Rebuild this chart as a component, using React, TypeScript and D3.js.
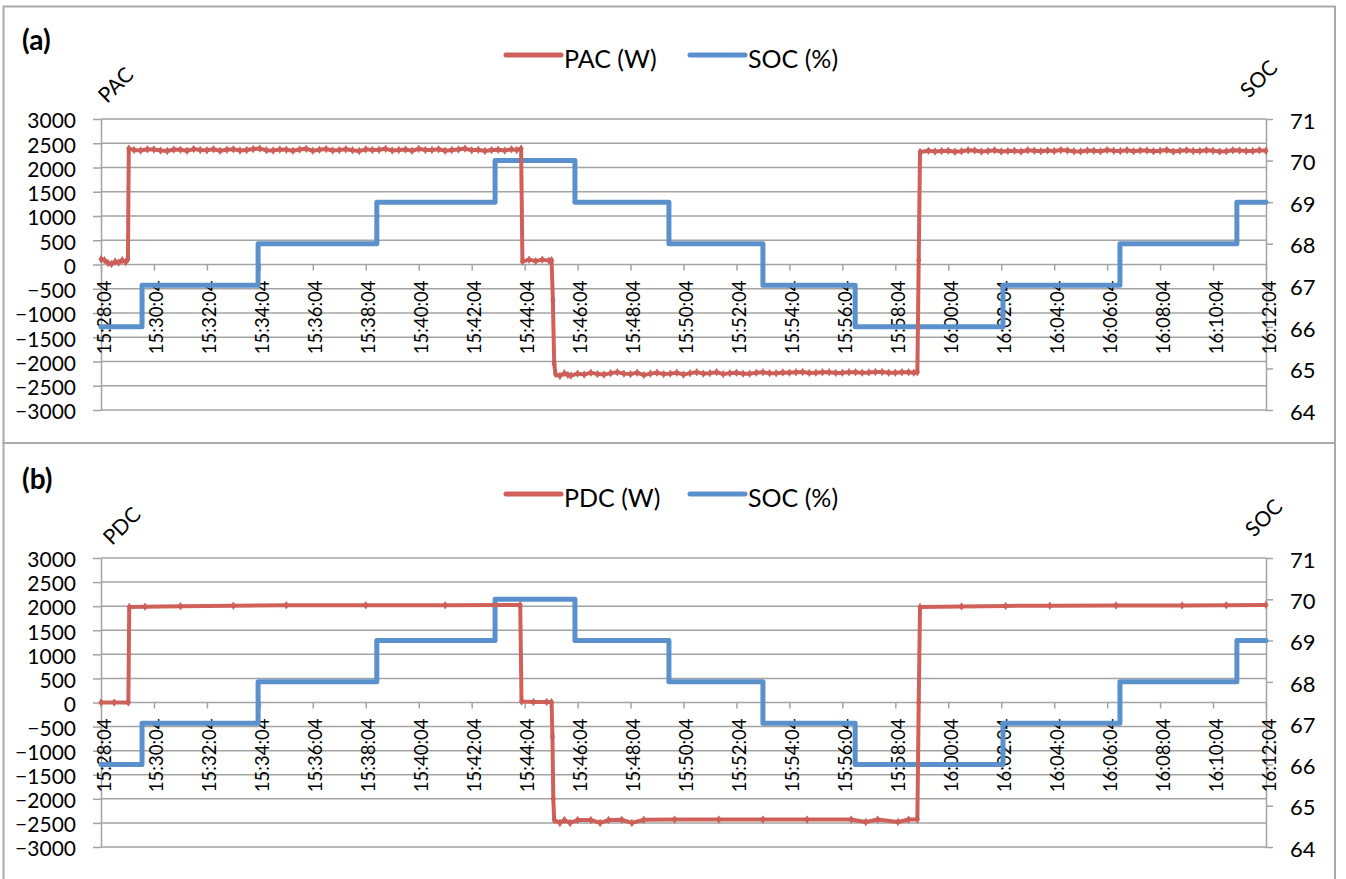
import React, { useEffect, useRef } from 'react'
import * as d3 from 'd3'

// time axis labels (every 2 minutes)
const tickTimes = [
  '15:28:04', '15:30:04', '15:32:04', '15:34:04', '15:36:04', '15:38:04',
  '15:40:04', '15:42:04', '15:44:04', '15:46:04', '15:48:04', '15:50:04',
  '15:52:04', '15:54:04', '15:56:04', '15:58:04', '16:00:04', '16:02:04',
  '16:04:04', '16:06:04', '16:08:04', '16:10:04', '16:12:04',
]
const powerTicks = [-3000, -2500, -2000, -1500, -1000, -500, 0, 500, 1000, 1500, 2000, 2500, 3000]
const socTicks = [64, 65, 66, 67, 68, 69, 70, 71]

// SOC (%) : level changes (same in both panels)
const socChangeTimes = [
  '15:28:04', '15:29:37', '15:34:00', '15:38:29', '15:42:57', '15:45:58',
  '15:49:31', '15:53:04', '15:56:33', '16:02:08', '16:06:33', '16:10:58', '16:12:04',
]
const socLevels = [66, 67, 68, 69, 70, 69, 68, 67, 66, 67, 68, 69, 69]

// PAC (W) : [seconds after 15:28:04, value]
const pacSamples: [number, number][] = [
  [0, 110], [8, 90], [16, 30], [24, 10], [32, 60], [40, 40], [48, 90], [56, 50], [61, 110],
  [63, 2390], [75, 2360], [90, 2350], [105, 2375], [120, 2370], [135, 2350], [150, 2340],
  [165, 2370], [180, 2365], [195, 2345], [210, 2380], [225, 2360], [240, 2355], [255, 2375],
  [270, 2345], [285, 2365], [300, 2375], [315, 2350], [330, 2360], [345, 2380], [360, 2390],
  [375, 2355], [390, 2350], [405, 2370], [420, 2365], [435, 2345], [450, 2370], [465, 2385],
  [480, 2345], [495, 2365], [510, 2380], [525, 2350], [540, 2360], [555, 2375], [570, 2355],
  [585, 2340], [600, 2375], [615, 2360], [630, 2365], [645, 2385], [660, 2350], [675, 2360],
  [690, 2370], [705, 2345], [720, 2385], [735, 2360], [750, 2360], [765, 2375], [780, 2345],
  [795, 2360], [810, 2370], [825, 2390], [840, 2355], [855, 2365], [870, 2340], [885, 2360],
  [900, 2365], [915, 2350], [930, 2375], [942, 2360], [952, 2390],
  [955, 60], [970, 100], [985, 70], [1000, 100], [1015, 80], [1021, 90],
  [1024, -730], [1027, -2050], [1030, -2260],
  [1040, -2300], [1050, -2240], [1058, -2280], [1065, -2290], [1080, -2250], [1095, -2270],
  [1110, -2230], [1125, -2260], [1140, -2270], [1155, -2240], [1170, -2220], [1185, -2250],
  [1200, -2260], [1215, -2230], [1230, -2280], [1245, -2250], [1260, -2230], [1275, -2260],
  [1290, -2250], [1305, -2230], [1320, -2270], [1335, -2240], [1350, -2220], [1365, -2250],
  [1380, -2240], [1395, -2220], [1410, -2260], [1425, -2240], [1440, -2230], [1455, -2250],
  [1470, -2250], [1485, -2230], [1500, -2220], [1515, -2240], [1530, -2240], [1545, -2225],
  [1560, -2230], [1575, -2220], [1590, -2215], [1605, -2235], [1620, -2230], [1635, -2220],
  [1650, -2220], [1665, -2235], [1680, -2230], [1695, -2220], [1710, -2220], [1725, -2230],
  [1740, -2225], [1755, -2215], [1770, -2215], [1785, -2230], [1800, -2230], [1815, -2220],
  [1830, -2220], [1842, -2230], [1850, -2220],
  [1853, 90], [1856, 2320], [1875, 2345], [1890, 2330], [1905, 2340], [1920, 2345],
  [1935, 2325], [1950, 2335], [1965, 2355], [1980, 2350], [1995, 2330], [2010, 2340],
  [2025, 2355], [2040, 2330], [2055, 2340], [2070, 2345], [2085, 2330], [2100, 2355],
  [2115, 2345], [2130, 2335], [2145, 2350], [2160, 2340], [2175, 2360], [2190, 2350],
  [2205, 2335], [2220, 2330], [2235, 2350], [2250, 2345], [2265, 2335], [2280, 2360],
  [2295, 2345], [2310, 2340], [2325, 2355], [2340, 2335], [2355, 2350], [2370, 2350],
  [2385, 2335], [2400, 2345], [2415, 2360], [2430, 2330], [2445, 2345], [2460, 2355],
  [2475, 2340], [2490, 2340], [2505, 2355], [2520, 2345], [2535, 2330], [2550, 2335],
  [2565, 2355], [2580, 2350], [2595, 2340], [2610, 2340], [2625, 2355], [2640, 2345],
]

// PDC (W) : [seconds after 15:28:04, value]
const pdcSamples: [number, number][] = [
  [0, 0], [30, 0], [62, 0], [64, 1985], [100, 1990], [180, 2000], [300, 2010], [420, 2020],
  [600, 2020], [780, 2020], [950, 2025],
  [953, 20], [980, 10], [1010, 10], [1021, 5],
  [1023, -700], [1025, -2000], [1027, -2440],
  [1040, -2500], [1050, -2440], [1063, -2500], [1080, -2440], [1110, -2440], [1131, -2500],
  [1150, -2440], [1180, -2435], [1203, -2500], [1230, -2435], [1300, -2430], [1400, -2430],
  [1500, -2430], [1600, -2430], [1700, -2430], [1733, -2480], [1760, -2430], [1806, -2480],
  [1830, -2430], [1850, -2430],
  [1853, 0], [1856, 1985], [1950, 1995], [2050, 2005], [2150, 2010], [2300, 2015],
  [2450, 2015], [2550, 2020], [2640, 2025],
]

const RED = '#d0605a'
const BLUE = '#5a91cd'
const GRID = '#a3a3a3'
const FONT = 'Lato, "Open Sans", sans-serif'

interface PanelConfig {
  tag: string
  axisTitle: string
  legendLabel: string
  samples: [number, number][]
  offset: number
  plotTop: number
  plotBottom: number
  titleAt: [number, number]
  socAt: [number, number]
}

const panelConfigs: PanelConfig[] = [
  { tag: '(a)', axisTitle: 'PAC', legendLabel: 'PAC (W)', samples: pacSamples, offset: 0,
    plotTop: 119, plotBottom: 410, titleAt: [115, 84], socAt: [1258, 78] },
  { tag: '(b)', axisTitle: 'PDC', legendLabel: 'PDC (W)', samples: pdcSamples, offset: 439,
    plotTop: 558, plotBottom: 847, titleAt: [121, 525], socAt: [1263, 517] },
]

const App: React.FC = () => {
  const svgRef = useRef<SVGSVGElement | null>(null)

  useEffect(() => {
    document.body.style.margin = '0'
    if (!svgRef.current) return
    const svg = d3.select(svgRef.current)
    svg.selectAll('*').remove()

    const parse = d3.timeParse('%H:%M:%S')
    const t0 = parse(tickTimes[0]) as Date
    const toDate = (s: number) => new Date(t0.getTime() + s * 1000)
    const fmt = d3.timeFormat('%H:%M:%S')

    const left = 101
    const right = 1266
    const x = d3.scaleTime()
      .domain([t0, parse(tickTimes[tickTimes.length - 1]) as Date])
      .range([left, right])

    const tickDates = tickTimes.map(t => parse(t) as Date)
    const socData: [Date, number][] = socChangeTimes.map((t, i) => [parse(t) as Date, socLevels[i]])

    panelConfigs.forEach((p, pi) => {
      const g = svg.append('g')

      // panel frame
      g.append('rect')
        .attr('x', 3.5)
        .attr('y', pi === 0 ? 6.5 : 443)
        .attr('width', 1331.5)
        .attr('height', pi === 0 ? 436.5 : 460)
        .attr('fill', 'white')
        .attr('stroke', '#aaaaaa')
        .attr('stroke-width', 2)

      const yL = d3.scaleLinear().domain([-3000, 3000]).range([p.plotBottom, p.plotTop])
      const yR = d3.scaleLinear().domain([64, 71]).range([p.plotBottom, p.plotTop])

      // horizontal gridlines
      g.append('g')
        .selectAll('line')
        .data(powerTicks)
        .join('line')
        .attr('x1', left)
        .attr('x2', right)
        .attr('y1', d => yL(d))
        .attr('y2', d => yL(d))
        .attr('stroke', GRID)
        .attr('stroke-width', 1.5)

      // left axis
      const la = g.append('g')
        .attr('transform', `translate(${left},0)`)
        .call(d3.axisLeft(yL).tickValues(powerTicks).tickFormat(d3.format('d'))
          .tickSizeInner(8).tickSizeOuter(0).tickPadding(17))
      la.attr('color', GRID)
      la.select('.domain').attr('stroke-width', 1.5)
      la.selectAll('line').attr('stroke-width', 1.5)
      la.selectAll('text')
        .attr('fill', '#000')
        .attr('dy', '0.42em')
        .style('font-family', FONT)
        .style('font-size', '21px')

      // right axis
      const ra = g.append('g')
        .attr('transform', `translate(${right},0)`)
        .call(d3.axisRight(yR).tickValues(socTicks).tickFormat(d3.format('d'))
          .tickSizeInner(7).tickSizeOuter(0).tickPadding(17))
      ra.attr('color', GRID)
      ra.select('.domain').attr('stroke-width', 1.5)
      ra.selectAll('line').attr('stroke-width', 1.5)
      ra.selectAll('text')
        .attr('fill', '#000')
        .attr('dy', '0.42em')
        .style('font-family', FONT)
        .style('font-size', '22px')

      // time axis on the zero line
      const xa = g.append('g')
        .attr('transform', `translate(0,${yL(0)})`)
        .call(d3.axisBottom(x).tickValues(tickDates).tickSize(6).tickFormat(d => fmt(d as Date)))
      xa.attr('color', GRID)
      xa.select('.domain').remove()
      xa.selectAll('line').attr('stroke-width', 1.5)
      xa.selectAll('text')
        .attr('fill', '#000')
        .attr('transform', 'rotate(-90)')
        .attr('text-anchor', 'end')
        .attr('dominant-baseline', 'central')
        .attr('x', -16)
        .attr('y', 2)
        .attr('dy', null)
        .style('font-family', FONT)
        .style('font-size', '18.5px')

      // SOC step line
      const socLine = d3.line<[Date, number]>()
        .x(d => x(d[0]))
        .y(d => yR(d[1]))
        .curve(d3.curveStepAfter)
      g.append('path')
        .datum(socData)
        .attr('fill', 'none')
        .attr('stroke', BLUE)
        .attr('stroke-width', 5)
        .attr('stroke-linejoin', 'round')
        .attr('stroke-linecap', 'round')
        .attr('d', socLine)

      // power line
      const powerLine = d3.line<[number, number]>()
        .x(d => x(toDate(d[0])))
        .y(d => yL(d[1]))
      g.append('path')
        .datum(p.samples)
        .attr('fill', 'none')
        .attr('stroke', RED)
        .attr('stroke-width', 4)
        .attr('stroke-linejoin', 'round')
        .attr('d', powerLine)

      const diamond = d3.symbol().type(d3.symbolDiamond).size(16)
      g.append('g')
        .selectAll('path')
        .data(p.samples)
        .join('path')
        .attr('transform', d => `translate(${x(toDate(d[0]))},${yL(d[1])})`)
        .attr('d', diamond() as string)
        .attr('fill', RED)
        .attr('stroke', '#c0554f')
        .attr('stroke-width', 0.6)

      // legend
      const legendY = 55 + p.offset
      const legend = g.append('g')
      const items = [
        { label: p.legendLabel, color: RED, x0: 506 },
        { label: 'SOC (%)', color: BLUE, x0: 690 },
      ]
      items.forEach(it => {
        legend.append('line')
          .attr('x1', it.x0)
          .attr('x2', it.x0 + 55)
          .attr('y1', legendY)
          .attr('y2', legendY)
          .attr('stroke', it.color)
          .attr('stroke-width', 5)
          .attr('stroke-linecap', 'round')
        legend.append('text')
          .attr('x', it.x0 + 58)
          .attr('y', legendY + 3)
          .attr('dominant-baseline', 'central')
          .style('font-family', FONT)
          .style('font-size', '25px')
          .text(it.label)
      })

      // panel tag
      g.append('text')
        .attr('x', 22)
        .attr('y', 39 + p.offset)
        .attr('dominant-baseline', 'central')
        .style('font-family', FONT)
        .style('font-size', '28px')
        .style('font-weight', 'bold')
        .text(p.tag)

      // axis titles (tilted)
      g.append('text')
        .attr('transform', `translate(${p.titleAt[0]},${p.titleAt[1]}) rotate(-45)`)
        .attr('text-anchor', 'middle')
        .attr('dominant-baseline', 'central')
        .style('font-family', FONT)
        .style('font-size', '21px')
        .text(p.axisTitle)

      g.append('text')
        .attr('transform', `translate(${p.socAt[0]},${p.socAt[1]}) rotate(-45)`)
        .attr('text-anchor', 'middle')
        .attr('dominant-baseline', 'central')
        .style('font-family', FONT)
        .style('font-size', '21px')
        .text('SOC')
    })
  }, [])

  return (
    <svg ref={svgRef} width={1346} height={879} style={{ display: 'block', background: 'white' }}></svg>
  )
}

export default App
